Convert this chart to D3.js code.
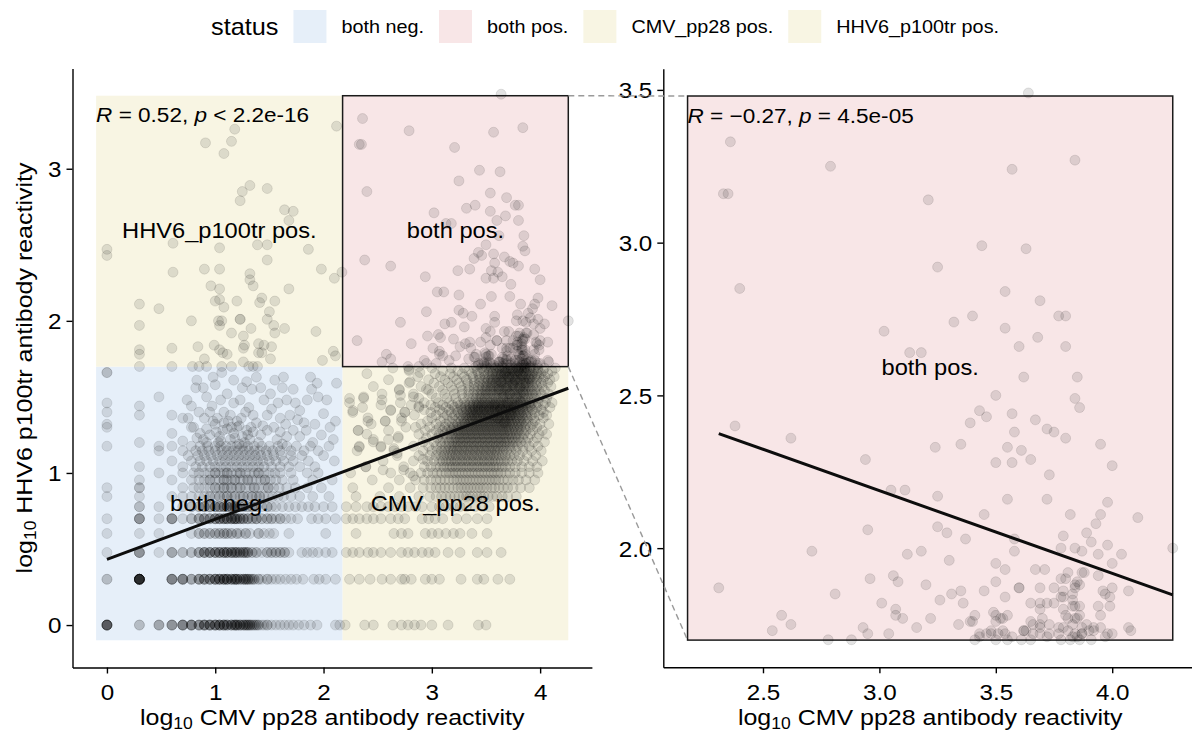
<!DOCTYPE html>
<html><head><meta charset="utf-8">
<script src="https://cdn.jsdelivr.net/npm/d3@7"></script>
<style>
html,body{margin:0;padding:0;background:#fff;}
svg{display:block;font-family:"Liberation Sans",Arial,Helvetica,sans-serif;}
</style></head><body>
<svg id="chart" width="1192" height="735"></svg>
<script>
// ---------------- values ----------------
const xTicks = [0, 1, 2, 3, 4];
const yTicks = [0, 1, 2, 3];
const zoomXTicks = [2.5, 3.0, 3.5, 4.0];
const zoomYTicks = [2.0, 2.5, 3.0, 3.5];
const statusNames = ["both neg.", "both pos.", "CMV_pp28 pos.", "HHV6_p100tr pos."];
const statusFills = ["#E6EFF9", "#F8E6E7", "#F8F5E3", "#F8F5E3"];
const cutoffs = [2.176, 1.699];          // log10 CMV pp28, log10 HHV6 p100tr
const zoneX = [-0.1, 4.26];              // extent of the status zones
const zoneY = [-0.1, 3.48];
const fitLine = [[0, 0.432], [4.26, 1.557]];        // linear fit, all samples
const zoomFitLine = [[2.31, 2.375], [4.26, 1.847]]; // linear fit, both pos.
const corAll = ["0.52", "<", "2.2e-16"];
const corZoom = ["\u22120.27", "=", "4.5e-05"];

// rows of samples sharing one HHV6 level: [y, [x | [x, count]]]
const bothNegRows = [
  [0, [[0,8],[0.30,2],[0.48,3],[0.60,4],[0.70,5],[0.78,5],[0.85,4],[0.90,5],[0.95,5],[1.00,5],[1.04,5],[1.08,5],[1.11,4],[1.15,4],[1.18,4],[1.20,4],[1.23,4],[1.26,3],[1.28,3],[1.30,3],[1.32,3],[1.34,2],[1.36,2],[1.38,2],[1.40,2],1.43,1.45,[1.48,2],1.52,1.56,1.60,1.64,1.68,1.72,1.77,1.82,1.88,1.94,2.11,2.15]],
  [0.301, [[0,2],[0.30,14],[0.60,5],[0.70,5],[0.78,3],[0.85,4],[0.90,4],[0.95,4],[1.00,5],[1.04,5],[1.08,5],[1.11,5],[1.15,4],[1.18,4],[1.20,4],[1.23,3],[1.26,3],[1.28,3],[1.30,3],[1.32,2],[1.34,2],[1.36,2],[1.40,2],1.43,[1.48,2],1.52,1.56,1.60,1.65,1.70,1.75,1.81,1.91,1.96,2.02,2.11]],
  [0.477, [0,[0.30,4],0.48,[0.60,3],[0.70,2],[0.78,2],[0.85,3],[0.90,4],[0.95,4],[1.00,4],[1.04,4],[1.08,4],[1.11,4],[1.15,4],[1.18,3],[1.20,3],[1.23,3],[1.26,3],[1.28,2],[1.30,3],[1.34,2],[1.38,2],1.43,[1.48,2],[1.52,2],[1.56,2],[1.60,2],[1.64,2],1.68,1.80,1.85,1.90,1.95,2.02,2.08]],
  [0.602, [0,0.30,0.48,0.78,[0.85,2],[0.90,2],[0.95,2],[1.00,2],[1.04,2],[1.08,2],[1.11,2],[1.15,2],[1.20,2],1.23,[1.28,2],1.32,[1.40,2],1.45,1.50,1.54,1.68,2.02]],
  [0.699, [0,[0.30,4],0.48,[0.60,4],0.70,[0.78,2],[0.85,3],[0.90,3],[0.95,3],[1.00,4],[1.04,4],[1.08,4],[1.11,4],[1.15,4],[1.18,4],[1.20,3],[1.23,3],[1.26,3],[1.30,3],[1.34,2],[1.38,3],[1.43,2],[1.48,2],[1.52,2],1.56,[1.60,2],1.65,1.70,1.76,1.89,1.95,2.02,2.11]],
  [0.778, [[0.30,2],0.48,0.70,[0.78,2],[0.85,2],[0.90,3],[0.95,3],[1.00,3],[1.04,3],[1.08,3],[1.11,3],[1.15,3],[1.18,3],[1.20,2],[1.23,2],[1.26,2],[1.30,2],[1.34,2],[1.38,2],1.43,[1.48,2],1.52,1.56,1.62,1.68,1.74,1.80,1.86,1.92,2.00,2.08]],
  [0.845, [0,0.30,0.60,0.70,0.78,0.85,0.90,[0.95,2],1.00,[1.04,2],1.08,[1.11,2],1.15,[1.18,2],1.23,[1.26,2],1.30,[1.34,2],1.38,[1.41,2],1.45,1.49,1.53,1.58,1.63,1.70,1.78,1.90,2.05]],
  [0.903, [0,[0.30,2],0.70,0.80,0.85,0.90,0.95,[1.00,2],1.04,[1.08,2],1.11,[1.15,2],1.20,[1.23,2],1.28,1.32,[1.36,2],1.40,1.45,[1.49,2],1.54,1.59,1.66,1.74,1.85,1.98]],
  [0.954, [0.30,0.60,0.78,0.85,0.90,[0.95,2],1.00,1.04,[1.08,2],1.11,1.15,[1.18,2],1.23,1.26,[1.30,2],1.34,1.38,1.42,[1.46,2],1.51,1.56,1.62,1.72,1.90,2.08]],
  [1.000, [0.48,0.70,0.80,0.85,0.90,0.95,[1.00,2],1.04,1.08,[1.11,2],1.15,1.20,[1.23,2],1.28,1.32,1.36,[1.40,2],1.45,1.50,1.55,1.60,1.70,1.85,1.95]],
  [1.041, [0.30,0.70,0.82,0.88,0.95,1.00,1.05,1.10,1.15,1.20,1.25,1.30,1.35,1.40,1.45,1.52,1.60,1.68,1.78,1.92]],
  [1.079, [0.60,0.78,0.86,0.92,0.98,1.04,1.09,1.14,1.19,1.24,1.29,1.34,1.39,1.44,1.50,1.56,1.63,1.72,1.86,2.10]],
  [1.114, [0.75,0.84,0.90,0.96,1.02,1.07,1.12,1.17,1.22,1.27,1.32,1.37,1.42,1.48,1.54,1.61,1.70,1.80,2.00]],
  [1.146, [0.48,0.70,0.82,0.88,0.94,1.00,1.06,1.11,1.16,1.21,1.26,1.31,1.36,1.41,1.47,1.53,1.60,1.70,1.82,1.95]],
  [1.176, [0,0.48,0.60,0.78,0.86,0.93,1.00,1.05,1.10,1.15,1.20,1.25,1.30,1.36,1.43,1.50,1.58,1.66,1.75,1.88,2.05]]
];
const bothNegPoints = [
  [0,1.66],[0,1.66],[0,1.46],[0,1.40],[0,1.32],[0,1.30],[0.30,1.44],[0.30,1.38],[0.30,1.20],[0.48,1.50],[0.60,1.38],[0.60,1.26],
  [0.70,1.36],[0.74,1.48],[0.78,1.44],[0.78,1.30],[0.82,1.56],[0.83,1.61],[0.83,1.23],[0.89,1.56],[0.90,1.36],[0.92,1.50],[0.97,1.44],
  [0.98,1.63],[1.00,1.58],[1.05,1.48],[1.06,1.66],[1.08,1.40],[1.11,1.52],[1.17,1.61],[1.17,1.46],[1.20,1.34],[1.23,1.48],[1.25,1.56],
  [1.29,1.60],[1.31,1.43],[1.34,1.55],[1.35,1.38],[1.38,1.63],[1.42,1.56],[1.45,1.48],[1.48,1.38],[1.51,1.52],[1.55,1.61],[1.58,1.46],
  [1.62,1.56],[1.63,1.63],[1.66,1.48],[1.69,1.38],[1.72,1.55],[1.74,1.46],[1.78,1.41],[1.82,1.33],[1.85,1.48],[1.88,1.63],[1.89,1.55],
  [1.94,1.59],[1.95,1.50],[2.00,1.39],[2.03,1.48],[2.06,1.30],[2.09,1.22],[2.11,1.34],[2.12,1.59],
  [0.80,1.30],[0.86,1.26],[0.89,1.22],[0.92,1.29],[0.98,1.34],[1.01,1.27],[1.04,1.24],[1.11,1.29],[1.14,1.22],[1.17,1.26],[1.20,1.30],
  [1.25,1.24],[1.29,1.28],[1.32,1.22],[1.35,1.27],[1.42,1.25],[1.48,1.28],[1.54,1.30],[1.57,1.22],[1.60,1.27],[1.66,1.24],[1.72,1.28],[1.78,1.24],
  [0.85,1.40],[0.95,1.40],[1.02,1.36],[1.08,1.33],[1.14,1.38],[1.24,1.36],[1.28,1.40],[1.38,1.33],[1.44,1.31],[1.52,1.42],[1.60,1.36],
  [1.65,1.32],[1.76,1.35],[1.84,1.28],[1.92,1.32],[1.98,1.25],[1.03,1.20],[1.22,1.19],[1.40,1.20],[1.62,1.19],[1.90,1.20],[0.70,1.21],[0.75,1.36],
  [0.95,1.25],[1.00,1.32],[1.07,1.28],[1.12,1.34],[1.18,1.23],[1.22,1.31],[1.27,1.20],[1.33,1.30],[1.05,1.21],[0.92,1.20],[1.15,1.30],[1.30,1.25]
];

const cmvPosRows = [
  [0, [2.20,2.38,2.46,2.64,2.72,2.78,2.84,2.90,3.00,3.15,3.43,3.50]],
  [0.301, [2.24,2.33,2.43,2.54,2.62,2.72,2.75,2.81,2.94,3.00,3.07,3.27,3.42,3.48,3.61,3.72]],
  [0.477, [2.21,2.27,2.33,2.41,2.46,2.53,2.62,2.72,2.78,2.84,2.91,2.97,3.03,3.15,3.26,3.42,3.51,3.64]],
  [0.602, [2.30,2.65,2.72,2.78,2.94,3.00,3.06,3.13,3.20,3.26,3.37,3.51]],
  [0.699, [2.21,2.27,2.33,2.40,2.46,2.53,2.62,2.69,2.75,2.91,2.97,3.03,3.10,3.23,3.32,3.42,3.51]],
  [0.778, [2.21,2.30,2.40,2.46,2.53,2.60,2.66,2.72,2.78,2.85,2.91,3.00,3.07,3.13,3.20,3.26,3.32,3.40,3.47,3.53]],
  [0.845, [2.30,2.52,2.70,2.88,2.98,3.04,3.09,3.13,3.17,3.21,3.25,3.29,3.32,3.35,3.38,3.42,3.45,3.48,3.52,3.56,3.60,3.65,3.70,3.78]],
  [0.903, [2.27,2.60,2.80,2.92,2.99,3.04,3.08,3.12,3.16,3.20,3.24,3.27,3.30,3.33,3.36,3.39,3.42,3.45,3.48,3.51,3.55,3.58,3.62,3.66,3.70,3.75,3.82,3.90]],
  [0.954, [2.45,2.70,2.85,2.93,2.99,3.04,3.08,3.12,3.16,3.20,3.23,3.26,3.29,3.32,3.35,3.38,3.41,3.44,3.47,3.50,3.53,3.56,3.59,3.62,3.66,3.70,3.75,3.80,3.87,3.95]],
  [1.000, [2.25,2.62,2.80,2.90,2.96,3.01,3.05,3.09,3.13,3.16,3.19,3.22,3.25,3.28,3.31,3.34,3.37,3.40,3.43,3.46,3.49,3.52,3.55,3.58,3.61,3.64,3.68,3.72,3.77,3.83,3.90,3.98]],
  [1.041, [2.39,2.74,2.93,2.99,3.04,3.08,3.11,3.14,3.17,3.19,3.22,3.24,3.27,3.29,3.32,3.34,3.37,3.39,3.42,3.44,3.47,3.49,3.52,3.54,3.57,3.59,3.62,3.65,3.68,3.72,3.77,3.83,3.90,3.97]],
  [1.079, [2.55,2.83,2.96,3.02,3.07,3.10,3.13,3.16,3.18,3.21,3.23,3.26,3.28,3.31,3.33,3.36,3.38,3.41,3.43,3.46,3.48,3.51,3.53,3.56,3.58,3.61,3.64,3.67,3.70,3.74,3.79,3.85,3.93,4.02]],
  [1.114, [2.68,2.88,2.98,3.04,3.08,3.11,3.14,3.17,3.19,3.22,3.24,3.27,3.29,3.32,3.34,3.37,3.39,3.42,3.44,3.47,3.49,3.52,3.54,3.57,3.59,3.62,3.65,3.68,3.72,3.76,3.81,3.88,3.96]],
  [1.146, [2.31,2.65,2.92,3.00,3.05,3.09,3.12,3.15,3.18,3.20,3.23,3.25,3.28,3.30,3.33,3.35,3.38,3.40,3.43,3.45,3.48,3.50,3.53,3.55,3.58,3.60,3.63,3.66,3.69,3.73,3.78,3.84,3.92,4.01]],
  [1.176, [2.33,2.53,2.83,2.97,3.04,3.09,3.13,3.16,3.19,3.21,3.24,3.26,3.29,3.31,3.34,3.36,3.39,3.41,3.44,3.46,3.49,3.51,3.54,3.56,3.59,3.61,3.64,3.66,3.69,3.72,3.75,3.79,3.84,3.90,3.98]],
  [1.204, [2.46,2.92,3.02,3.08,3.12,3.16,3.19,3.22,3.24,3.27,3.29,3.32,3.34,3.37,3.39,3.42,3.44,3.47,3.49,3.52,3.54,3.57,3.59,3.62,3.64,3.67,3.69,3.72,3.75,3.78,3.82,3.87,3.94,4.04]],
  [1.230, [2.69,2.95,3.05,3.10,3.14,3.18,3.21,3.23,3.26,3.28,3.31,3.33,3.36,3.38,3.41,3.43,3.46,3.48,3.51,3.53,3.56,3.58,3.61,3.63,3.66,3.68,3.71,3.74,3.77,3.80,3.84,3.89,3.97]],
  [1.255, [2.40,2.88,3.00,3.07,3.12,3.16,3.19,3.22,3.25,3.27,3.30,3.32,3.35,3.37,3.40,3.42,3.45,3.47,3.50,3.52,3.55,3.57,3.60,3.62,3.65,3.67,3.70,3.72,3.75,3.78,3.81,3.85,3.91,3.99,4.06]],
  [1.279, [2.32,2.60,2.94,3.04,3.10,3.14,3.18,3.21,3.24,3.26,3.29,3.31,3.34,3.36,3.39,3.41,3.44,3.46,3.49,3.51,3.54,3.56,3.59,3.61,3.64,3.66,3.69,3.71,3.74,3.77,3.80,3.83,3.87,3.93,4.02]],
  [1.301, [2.76,2.98,3.07,3.12,3.16,3.20,3.23,3.25,3.28,3.30,3.33,3.35,3.38,3.40,3.43,3.45,3.48,3.50,3.53,3.55,3.58,3.60,3.63,3.65,3.68,3.70,3.73,3.76,3.79,3.82,3.86,3.91,3.97]],
  [1.322, [2.44,2.90,3.04,3.13,3.19,3.24,3.28,3.31,3.34,3.37,3.39,3.42,3.44,3.47,3.49,3.52,3.54,3.57,3.59,3.62,3.64,3.67,3.69,3.72,3.74,3.77,3.80,3.83,3.87,3.93,4.00,4.08]],
  [1.342, [2.57,2.96,3.08,3.16,3.22,3.27,3.30,3.33,3.36,3.38,3.41,3.43,3.46,3.48,3.51,3.53,3.56,3.58,3.61,3.63,3.66,3.68,3.71,3.73,3.76,3.79,3.82,3.85,3.89,3.95]],
  [1.362, [2.41,2.72,3.00,3.11,3.19,3.25,3.29,3.32,3.35,3.37,3.40,3.42,3.45,3.47,3.50,3.52,3.55,3.57,3.60,3.62,3.65,3.67,3.70,3.72,3.75,3.78,3.81,3.84,3.88,3.94,4.03]],
  [1.380, [2.84,3.04,3.14,3.21,3.27,3.31,3.34,3.37,3.39,3.42,3.44,3.47,3.49,3.52,3.54,3.57,3.59,3.62,3.64,3.67,3.69,3.72,3.74,3.77,3.80,3.83,3.87,3.92,3.99,4.06]],
  [1.398, [2.27,2.75,2.99,3.10,3.18,3.24,3.29,3.33,3.36,3.38,3.41,3.43,3.46,3.48,3.51,3.53,3.56,3.58,3.61,3.63,3.66,3.68,3.71,3.73,3.76,3.79,3.82,3.85,3.89,3.95,4.03]],
  [1.415, [2.62,2.93,3.07,3.16,3.23,3.28,3.32,3.35,3.38,3.40,3.43,3.45,3.48,3.50,3.53,3.55,3.58,3.60,3.63,3.65,3.68,3.70,3.73,3.75,3.78,3.81,3.84,3.88,3.93,4.01]],
  [1.431, [2.36,2.88,3.03,3.13,3.21,3.27,3.31,3.35,3.38,3.40,3.43,3.45,3.48,3.50,3.53,3.55,3.58,3.60,3.63,3.65,3.68,3.70,3.73,3.75,3.78,3.81,3.84,3.87,3.91,3.97,4.09]],
  [1.447, [2.53,2.81,2.99,3.10,3.19,3.26,3.31,3.35,3.38,3.41,3.43,3.46,3.48,3.51,3.53,3.56,3.58,3.61,3.63,3.66,3.68,3.71,3.73,3.76,3.78,3.81,3.84,3.87,3.91,3.96,4.03]],
  [1.462, [2.24,2.71,2.93,3.06,3.16,3.24,3.30,3.35,3.39,3.42,3.44,3.47,3.49,3.52,3.54,3.57,3.59,3.62,3.64,3.67,3.69,3.72,3.74,3.77,3.79,3.82,3.84,3.87,3.90,3.93,3.98,4.05,4.11]],
  [1.491, [2.37,2.88,3.04,3.14,3.22,3.29,3.34,3.38,3.41,3.44,3.46,3.49,3.51,3.54,3.56,3.59,3.61,3.64,3.66,3.69,3.71,3.74,3.76,3.79,3.81,3.84,3.86,3.89,3.92,3.95,3.99,4.06]],
  [1.519, [2.54,2.83,3.00,3.12,3.21,3.28,3.34,3.38,3.42,3.45,3.47,3.50,3.52,3.55,3.57,3.60,3.62,3.65,3.67,3.70,3.72,3.75,3.77,3.80,3.82,3.85,3.87,3.90,3.93,3.96,4.01,4.08]],
  [1.544, [2.70,2.97,3.10,3.20,3.28,3.34,3.39,3.43,3.46,3.49,3.51,3.54,3.56,3.59,3.61,3.64,3.66,3.69,3.71,3.74,3.76,3.79,3.81,3.84,3.86,3.89,3.92,3.95,3.99,4.04]],
  [1.568, [2.46,2.90,3.07,3.18,3.27,3.34,3.39,3.43,3.47,3.50,3.52,3.55,3.57,3.60,3.62,3.65,3.67,3.70,3.72,3.75,3.77,3.80,3.82,3.85,3.87,3.90,3.93,3.97,4.02,4.10]],
  [1.591, [2.79,3.02,3.15,3.25,3.33,3.39,3.44,3.48,3.51,3.54,3.56,3.59,3.61,3.64,3.66,3.69,3.71,3.74,3.76,3.79,3.81,3.84,3.86,3.89,3.92,3.96,4.01,4.07]],
  [1.613, [2.60,2.97,3.12,3.23,3.32,3.39,3.44,3.48,3.52,3.55,3.57,3.60,3.62,3.65,3.67,3.70,3.72,3.75,3.77,3.80,3.82,3.85,3.87,3.90,3.93,3.97,4.03,4.09]],
  [1.633, [2.87,3.08,3.20,3.30,3.38,3.44,3.49,3.53,3.56,3.59,3.61,3.64,3.66,3.69,3.71,3.74,3.76,3.79,3.81,3.84,3.86,3.89,3.92,3.95,3.99,4.04,4.13]],
  [1.653, [2.40,3.03,3.17,3.28,3.37,3.43,3.48,3.52,3.56,3.59,3.62,3.64,3.67,3.69,3.72,3.74,3.77,3.79,3.82,3.84,3.87,3.90,3.93,3.97,4.01,4.07]],
  [1.672, [2.79,3.10,3.24,3.34,3.42,3.48,3.53,3.57,3.60,3.63,3.65,3.68,3.70,3.73,3.75,3.78,3.80,3.83,3.85,3.88,3.91,3.94,3.98,4.03,4.11]],
  [1.690, [2.64,3.00,3.18,3.30,3.39,3.46,3.51,3.55,3.59,3.62,3.65,3.67,3.70,3.72,3.75,3.77,3.80,3.82,3.85,3.88,3.91,3.94,3.98,4.04,4.14]]
];
const cmvPosPoints = [
  [2.24,1.49],[2.37,1.50],[2.54,1.48],[2.70,1.55],[2.27,1.41],[2.32,1.28],[2.41,1.34],[2.75,1.40],[2.33,1.17],[2.53,1.17],
  [2.69,1.24],[2.62,1.41],[2.71,1.51],[2.79,1.68],[2.89,1.66],[2.57,1.34],[2.46,1.22],[2.60,1.22],[2.65,1.16],[2.72,1.34],
  [2.83,1.50],[2.88,1.44],[2.95,1.55],[2.39,1.04],[2.55,1.02],[2.68,1.13],[2.74,1.02],[2.83,0.98],[2.92,1.09],[2.85,1.30],[2.80,1.60],
  [3.66,1.50],[3.72,1.52],[3.78,1.50],[3.84,1.53],[3.69,1.56],[3.75,1.58],[3.81,1.56],[3.87,1.59],[3.64,1.60],[3.71,1.63],
  [3.77,1.61],[3.83,1.64],[3.68,1.66],[3.74,1.68],[3.80,1.67],[3.86,1.69],[3.62,1.55],[3.90,1.62],[3.58,1.45],[3.64,1.42],
  [3.70,1.46],[3.76,1.43],[3.82,1.47],[3.61,1.36],[3.67,1.33],[3.73,1.38]
];

const hhvPosPoints = [
  [1.18,3.26],[1.15,3.18],[0.91,3.17],[1.08,3.10],[2.12,3.28],[1.32,2.89],[1.25,2.85],[1.23,2.79],[1.48,2.87],[1.64,2.73],[1.72,2.72],
  [1.68,2.66],[0,2.47],[0,2.43],[0.61,2.51],[1.04,2.48],[1.39,2.50],[1.48,2.50],[1.48,2.40],[1.86,2.47],[0.90,2.34],[1.04,2.34],
  [0.61,2.32],[1.32,2.31],[1.32,2.27],[1.68,2.21],[1.98,2.34],[2.10,2.28],[2.17,2.32],[0.96,2.23],[1.04,2.21],[1.04,2.14],[1.35,2.23],
  [1.43,2.15],[1.55,2.13],[1.20,2.13],[1.08,2.09],[1.41,2.12],[1.00,2.13],
  [0.30,2.11],[0.30,1.97],[0.48,2.08],[0.30,1.81],[0.30,1.78],[0.60,1.82],[0.78,2.00],[0.84,1.83],[0.90,1.75],[0.99,1.84],[1.03,2.00],
  [1.04,1.97],[1.07,1.79],[1.11,1.78],[1.15,1.92],[1.23,2.01],[1.23,2.01],[1.26,1.90],[1.27,1.84],[1.26,1.82],[1.26,1.73],[1.33,1.95],
  [1.40,1.85],[1.40,1.79],[1.43,1.79],[1.45,1.84],[1.48,2.01],[1.50,2.06],[1.52,1.83],[1.51,1.75],[1.55,1.92],[1.54,1.97],[1.64,1.95],
  [1.93,1.93],[1.99,1.74],[2.09,1.80],[2.11,1.77],[1.04,1.81],[1.06,2.00],
  [0.79,1.70],[0.85,1.70],[0.92,1.70],[1.06,1.70],[1.15,1.70],[1.31,1.70],[1.35,1.70],[1.39,1.70],[0.30,1.70],[0.60,1.70]
];

const bothPosPoints = [
  [3.64,3.49],[2.36,3.33],[2.79,3.25],[3.57,3.24],[3.84,3.27],[2.33,3.16],[2.35,3.16],[3.21,3.14],[3.44,2.99],[3.63,2.98],[3.25,2.92],
  [2.40,2.85],[3.54,2.84],[3.69,2.81],[3.77,2.76],[3.80,2.76],[3.40,2.76],[3.32,2.74],[3.54,2.72],[3.02,2.71],[3.68,2.69],[3.60,2.66],
  [3.80,2.66],[3.13,2.64],[3.18,2.64],[3.62,2.56],[3.85,2.56],
  [3.50,2.50],[3.84,2.49],[3.86,2.46],[3.43,2.45],[3.46,2.43],[3.39,2.41],[3.57,2.44],[3.67,2.42],[3.72,2.39],[3.75,2.38],[3.80,2.36],
  [3.58,2.38],[3.35,2.34],[3.55,2.33],[3.61,2.32],[3.24,2.33],[3.95,2.34],[3.65,2.29],[3.50,2.28],[3.57,2.28],[2.94,2.29],[4.00,2.27],
  [3.73,2.24],[2.62,2.36],[2.38,2.40],[3.05,2.19],[3.11,2.19],[3.25,2.17],[3.55,2.16],[3.72,2.16],[3.98,2.15],[3.45,2.11],[3.82,2.11],
  [3.95,2.11],[4.11,2.10],[3.93,2.08],[3.25,2.07],[3.29,2.05],[3.37,2.03],[2.95,2.06],[3.79,2.04],[3.89,2.05],[3.91,2.02],[3.78,2.00],
  [3.84,2.00],[3.87,1.99],[3.98,2.01],[3.58,2.03],[3.58,1.99],[4.26,2.00],[2.71,1.99],[3.18,1.99],[3.12,1.98],[3.94,1.98],[4.04,1.98],
  [4.00,1.95],[3.30,1.96],[3.50,1.95],[3.54,1.93],[3.67,1.93],[3.71,1.93],[3.81,1.92],[3.88,1.92],[3.94,1.91],[3.06,1.91],[3.08,1.89],
  [2.96,1.90],[3.78,1.90],[3.80,1.90],[3.85,1.89],[3.86,1.88],[3.87,1.92],[3.50,1.89],[3.20,1.88],[3.45,1.86],[3.60,1.87],[3.60,1.87],
  [3.35,1.86],[3.31,1.85],[3.69,1.87],[3.75,1.87],[3.84,1.87],[4.00,1.87],[3.97,1.85],[4.07,1.86],[2.31,1.87],[2.81,1.85],[3.99,1.84],
  [3.79,1.84],[3.83,1.83],[3.84,1.81],[3.83,1.81],[3.54,1.84],[3.26,1.83],[3.01,1.82],[3.36,1.82],[3.65,1.82],[3.69,1.82],[3.72,1.82],
  [3.75,1.82],[3.78,1.84],[3.94,1.81],[3.99,1.81],[3.07,1.80],[3.07,1.78],[3.50,1.78],[3.55,1.78],[2.58,1.78],[3.69,1.80],[3.80,1.78],
  [3.84,1.77],[3.86,1.78],[3.95,1.78],[3.10,1.77],[3.22,1.77],[3.41,1.78],[3.39,1.76],[3.40,1.76],[3.53,1.77],[2.62,1.75],[3.65,1.76],
  [3.66,1.75],[3.69,1.75],[3.73,1.75],[3.79,1.74],[3.83,1.75],[3.89,1.75],[3.87,1.74],[3.92,1.74],[3.95,1.74],[3.34,1.75],[3.16,1.74],
  [2.93,1.74],[2.54,1.73],[4.07,1.74],[4.08,1.73],[4.00,1.72],[3.46,1.72],[3.43,1.72],[3.48,1.73],[3.51,1.72],[3.62,1.73],[3.63,1.73],
  [3.69,1.72],[3.73,1.72],[3.81,1.73],[3.84,1.72],[3.85,1.71],[3.87,1.72],[3.90,1.73],[3.98,1.72],[2.95,1.72],[3.04,1.72],
  [2.78,1.70],[2.88,1.70],[3.41,1.70],[3.50,1.70],[3.55,1.70],[3.61,1.70],[3.65,1.70],[3.78,1.70],[3.82,1.70],[3.86,1.70],[3.91,1.70],
  [3.84,1.88],[3.79,1.86],[3.83,1.85],[3.96,1.86],[3.79,1.80],[3.86,1.81],[3.49,1.79],[3.52,1.77],[3.50,1.76],[3.53,1.73],[3.70,1.77],
  [3.77,1.74],[3.81,1.77],[3.85,1.77],[3.43,1.71],[3.48,1.72],[3.54,1.72],[3.57,1.71],[3.62,1.73],[3.66,1.72],[3.69,1.74],[3.72,1.71],
  [3.77,1.72],[3.83,1.71],[3.87,1.72],[3.92,1.73],[3.97,1.71]
];

// ---------------- layout ----------------
const TX = 1.1;          // horizontal glyph stretch of every label
const INK = "#000";
const svg = d3.select("#chart");

function expand([a, b]) { const s = b - a; return [a - 0.05 * s, b + 0.05 * s]; }

const xAll = d3.scaleLinear().domain(expand(zoneX)).range([72.5, 591.9]);
const yAll = d3.scaleLinear().domain(expand(zoneY)).range([667.5, 68.5]);
const xZoom = d3.scaleLinear().domain(expand([cutoffs[0], zoneX[1]])).range([663.3, 1197]);
const yZoom = d3.scaleLinear().domain(expand([cutoffs[1], zoneY[1]])).range([667.3, 68.8]);

function rowsToPoints(rows) {
  const out = [];
  rows.forEach(([y, xs]) => xs.forEach(v => {
    const [x, n] = Array.isArray(v) ? v : [v, 1];
    for (let i = 0; i < n; i++) out.push([x, y]);
  }));
  return out;
}
const allPoints = rowsToPoints(bothNegRows).concat(bothNegPoints, rowsToPoints(cmvPosRows), cmvPosPoints,
  hhvPosPoints, bothPosPoints);

function text(parent, x, y, size, opts = {}) {
  const g = parent.append("g")
    .attr("transform", `translate(${x},${y})${opts.rotate ? ` rotate(${opts.rotate})` : ""} scale(${TX},1)`);
  const t = g.append("text").attr("font-size", size).attr("fill", INK)
    .attr("text-anchor", opts.anchor || "start");
  if (opts.baseline) t.attr("dominant-baseline", opts.baseline);
  return t;
}

// status zones: [xmin, xmax, ymin, ymax]
const zones = [
  [zoneX[0], cutoffs[0], zoneY[0], cutoffs[1]],
  [cutoffs[0], zoneX[1], cutoffs[1], zoneY[1]],
  [cutoffs[0], zoneX[1], zoneY[0], cutoffs[1]],
  [zoneX[0], cutoffs[0], cutoffs[1], zoneY[1]]
];

function drawPoints(g, pts, xs, ys) {
  g.append("g").selectAll("circle").data(pts).join("circle")
    .attr("cx", d => xs(d[0])).attr("cy", d => ys(d[1])).attr("r", 5)
    .attr("fill", "#000").attr("fill-opacity", 0.11)
    .attr("stroke", "#000").attr("stroke-opacity", 0.11).attr("stroke-width", 0.9);
}

function drawAxes(g, xs, ys, xt, yt, fmt) {
  const style = a => {
    a.select(".domain").attr("stroke", INK).attr("stroke-width", 1.4);
    a.selectAll(".tick line").attr("stroke", INK).attr("stroke-width", 1.4);
    a.selectAll(".tick text").attr("fill", INK).attr("font-size", 22)
      .attr("font-family", null).attr("transform", `scale(${TX},1)`);
    a.attr("font-family", null).attr("font-size", null);
  };
  g.append("g").attr("transform", `translate(0,${ys.range()[0]})`)
    .call(d3.axisBottom(xs).tickValues(xt).tickFormat(fmt).tickSize(6).tickSizeOuter(0).tickPadding(11))
    .call(style);
  g.append("g").attr("transform", `translate(${xs.range()[0]},0)`)
    .call(d3.axisLeft(ys).tickValues(yt).tickFormat(fmt).tickSize(6).tickSizeOuter(0).tickPadding(4))
    .call(style)
    .selectAll(".tick text").attr("dy", "0.36em");
}

function corLabel(g, x, y, vals) {
  const t = text(g, x, y, 20.5);
  t.append("tspan").attr("font-style", "italic").text("R");
  t.append("tspan").text(` = ${vals[0]}, `);
  t.append("tspan").attr("font-style", "italic").text("p");
  t.append("tspan").text(` ${vals[1]} ${vals[2]}`);
}

function axisTitle(g, x, y, rest, rotate) {
  const t = text(g, x, y, 22.7, {anchor: "middle", rotate});
  t.append("tspan").text("log");
  t.append("tspan").attr("font-size", 15.9).attr("dy", 4).text("10");
  t.append("tspan").attr("dy", -4).text(" " + rest);
}

// ---------------- left panel: all samples ----------------
const left = svg.append("g");
zones.forEach((z, i) => {
  if (i === 1) return;
  left.append("rect").attr("x", xAll(z[0])).attr("y", yAll(z[3]))
    .attr("width", xAll(z[1]) - xAll(z[0])).attr("height", yAll(z[2]) - yAll(z[3]))
    .attr("fill", statusFills[i]);
});
{
  const z = zones[1];
  left.append("rect").attr("x", xAll(z[0])).attr("y", yAll(z[3]))
    .attr("width", xAll(z[1]) - xAll(z[0])).attr("height", yAll(z[2]) - yAll(z[3]))
    .attr("fill", statusFills[1]).attr("stroke", "#1a1a1a").attr("stroke-width", 1.5);
}
zones.forEach((z, i) => {
  text(left, xAll((z[0] + z[1]) / 2), yAll((z[2] + z[3]) / 2), 21.5, {anchor: "middle", baseline: "central"})
    .text(statusNames[i]);
});
drawPoints(left, allPoints, xAll, yAll);
left.append("line")
  .attr("x1", xAll(fitLine[0][0])).attr("y1", yAll(fitLine[0][1]))
  .attr("x2", xAll(fitLine[1][0])).attr("y2", yAll(fitLine[1][1]))
  .attr("stroke", "#0d0d0d").attr("stroke-width", 3);
corLabel(left, xAll(zoneX[0]), yAll(zoneY[1]) + 26.5, corAll);
drawAxes(left, xAll, yAll, xTicks, yTicks, d3.format("d"));
axisTitle(left, (xAll.range()[0] + xAll.range()[1]) / 2, 725, "CMV pp28 antibody reactivity");
axisTitle(left, 32, (yAll.range()[0] + yAll.range()[1]) / 2, "HHV6 p100tr antibody reactivity", -90);

// ---------------- right panel: both pos. samples ----------------
const right = svg.append("g");
{
  const z = zones[1];
  right.append("rect").attr("x", xZoom(z[0])).attr("y", yZoom(z[3]))
    .attr("width", xZoom(z[1]) - xZoom(z[0])).attr("height", yZoom(z[2]) - yZoom(z[3]))
    .attr("fill", statusFills[1]).attr("stroke", "#1a1a1a").attr("stroke-width", 1.5);
  text(right, xZoom((z[0] + z[1]) / 2), yZoom((z[2] + z[3]) / 2), 21.5, {anchor: "middle", baseline: "central"})
    .text(statusNames[1]);
}
drawPoints(right, bothPosPoints, xZoom, yZoom);
right.append("line")
  .attr("x1", xZoom(zoomFitLine[0][0])).attr("y1", yZoom(zoomFitLine[0][1]))
  .attr("x2", xZoom(zoomFitLine[1][0])).attr("y2", yZoom(zoomFitLine[1][1]))
  .attr("stroke", "#0d0d0d").attr("stroke-width", 3);
corLabel(right, xZoom(cutoffs[0]), yZoom(zoneY[1]) + 26.5, corZoom);
drawAxes(right, xZoom, yZoom, zoomXTicks, zoomYTicks, d3.format(".1f"));
axisTitle(right, (xZoom.range()[0] + xZoom.range()[1]) / 2, 725, "CMV pp28 antibody reactivity");

// ---------------- zoom connectors ----------------
const conn = svg.append("g").attr("stroke", "#9a9a9a").attr("stroke-width", 1.4)
  .attr("stroke-dasharray", "6,4").attr("fill", "none");
conn.append("line").attr("x1", xAll(zoneX[1])).attr("y1", yAll(zoneY[1]))
  .attr("x2", xZoom(cutoffs[0])).attr("y2", yZoom(zoneY[1]));
conn.append("line").attr("x1", xAll(zoneX[1])).attr("y1", yAll(cutoffs[1]))
  .attr("x2", xZoom(cutoffs[0])).attr("y2", yZoom(cutoffs[1]));

// ---------------- legend ----------------
const legend = svg.append("g");
let lx = 211;
const title = text(legend, lx, 35, 23).text("status");
lx += title.node().getComputedTextLength() * TX + 15;
statusNames.forEach((name, i) => {
  legend.append("rect").attr("x", lx).attr("y", 10).attr("width", 33).attr("height", 33).attr("fill", statusFills[i]);
  lx += 33 + 15;
  const t = text(legend, lx, 33, 18).text(name);
  lx += t.node().getComputedTextLength() * TX + 15;
});
</script>
</body></html>
